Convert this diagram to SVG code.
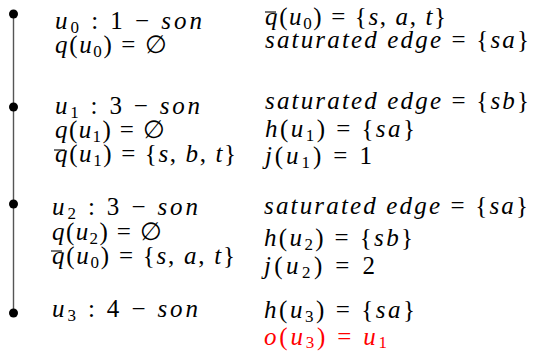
<svg xmlns="http://www.w3.org/2000/svg" width="533" height="353" viewBox="0 0 533 353">
<style>
text{font-family:"Liberation Serif","Times New Roman",serif;font-size:25px;fill:#000}
.i{font-style:italic}
.s{font-size:17px}
.red,.red tspan{fill:#ff0000}
.dot{fill:#000}
.bar{stroke:#000;stroke-width:1.1}
.conn{stroke:#555;stroke-width:1.4;fill:none}
</style>
<rect width="533" height="353" fill="#fff"/>
<g id="connectors">
<line class="conn" x1="13.5" y1="14" x2="13.5" y2="313"/>
</g>
<g id="u0">
<circle class="dot" cx="13.5" cy="14" r="4.5"/>
<text x="55" y="29" textLength="147" lengthAdjust="spacing"><tspan class="i">u</tspan><tspan class="s" dy="4">0</tspan><tspan dy="-4"> :  1 − </tspan><tspan class="i">son</tspan></text>
<text x="55" y="53" textLength="112" lengthAdjust="spacing"><tspan class="i">q</tspan>(<tspan class="i">u</tspan><tspan class="s" dy="4">0</tspan><tspan dy="-4">) = ∅</tspan></text>
<line class="bar" x1="265" y1="12" x2="276" y2="12"/>
<text x="265" y="25" textLength="181" lengthAdjust="spacing"><tspan class="i">q</tspan>(<tspan class="i">u</tspan><tspan class="s" dy="4">0</tspan><tspan dy="-4">) = {</tspan><tspan class="i">s</tspan>, <tspan class="i">a</tspan>, <tspan class="i">t</tspan>}</text>
<text x="265" y="48" textLength="264" lengthAdjust="spacing"><tspan class="i">saturated edge</tspan> = {<tspan class="i">sa</tspan>}</text>
</g>
<g id="u1">
<circle class="dot" cx="13.5" cy="107" r="4.5"/>
<text x="55" y="114" textLength="145" lengthAdjust="spacing"><tspan class="i">u</tspan><tspan class="s" dy="4">1</tspan><tspan dy="-4"> :  3 − </tspan><tspan class="i">son</tspan></text>
<text x="55" y="138" textLength="110" lengthAdjust="spacing"><tspan class="i">q</tspan>(<tspan class="i">u</tspan><tspan class="s" dy="4">1</tspan><tspan dy="-4">) = ∅</tspan></text>
<line class="bar" x1="54" y1="150" x2="65" y2="150"/>
<text x="55" y="162" textLength="181" lengthAdjust="spacing"><tspan class="i">q</tspan>(<tspan class="i">u</tspan><tspan class="s" dy="4">1</tspan><tspan dy="-4">) = {</tspan><tspan class="i">s</tspan>, <tspan class="i">b</tspan>, <tspan class="i">t</tspan>}</text>
<text x="265" y="109" textLength="264" lengthAdjust="spacing"><tspan class="i">saturated edge</tspan> = {<tspan class="i">sb</tspan>}</text>
<text x="265" y="137" textLength="150" lengthAdjust="spacing"><tspan class="i">h</tspan>(<tspan class="i">u</tspan><tspan class="s" dy="4">1</tspan><tspan dy="-4">) = {</tspan><tspan class="i">sa</tspan>}</text>
<text x="265" y="164" textLength="107" lengthAdjust="spacing"><tspan class="i">j</tspan>(<tspan class="i">u</tspan><tspan class="s" dy="4">1</tspan><tspan dy="-4">) = 1</tspan></text>
</g>
<g id="u2">
<circle class="dot" cx="13.5" cy="204" r="4.5"/>
<text x="52" y="215" textLength="146" lengthAdjust="spacing"><tspan class="i">u</tspan><tspan class="s" dy="4">2</tspan><tspan dy="-4"> :  3 − </tspan><tspan class="i">son</tspan></text>
<text x="52" y="240" textLength="110" lengthAdjust="spacing"><tspan class="i">q</tspan>(<tspan class="i">u</tspan><tspan class="s" dy="4">2</tspan><tspan dy="-4">) = ∅</tspan></text>
<line class="bar" x1="51" y1="251" x2="62" y2="251"/>
<text x="52" y="264" textLength="183" lengthAdjust="spacing"><tspan class="i">q</tspan>(<tspan class="i">u</tspan><tspan class="s" dy="4">0</tspan><tspan dy="-4">) = {</tspan><tspan class="i">s</tspan>, <tspan class="i">a</tspan>, <tspan class="i">t</tspan>}</text>
<text x="264" y="214" textLength="264" lengthAdjust="spacing"><tspan class="i">saturated edge</tspan> = {<tspan class="i">sa</tspan>}</text>
<text x="264" y="246" textLength="149" lengthAdjust="spacing"><tspan class="i">h</tspan>(<tspan class="i">u</tspan><tspan class="s" dy="4">2</tspan><tspan dy="-4">) = {</tspan><tspan class="i">sb</tspan>}</text>
<text x="264" y="274" textLength="111" lengthAdjust="spacing"><tspan class="i">j</tspan>(<tspan class="i">u</tspan><tspan class="s" dy="4">2</tspan><tspan dy="-4">) = 2</tspan></text>
</g>
<g id="u3">
<circle class="dot" cx="13.5" cy="313" r="4.5"/>
<text x="52" y="317" textLength="146" lengthAdjust="spacing"><tspan class="i">u</tspan><tspan class="s" dy="4">3</tspan><tspan dy="-4"> :  4 − </tspan><tspan class="i">son</tspan></text>
<text x="264" y="318" textLength="151" lengthAdjust="spacing"><tspan class="i">h</tspan>(<tspan class="i">u</tspan><tspan class="s" dy="4">3</tspan><tspan dy="-4">) = {</tspan><tspan class="i">sa</tspan>}</text>
<text class="red" x="264" y="345" textLength="123" lengthAdjust="spacing"><tspan class="i">o</tspan>(<tspan class="i">u</tspan><tspan class="s" dy="3">3</tspan><tspan dy="-3">) = </tspan><tspan class="i">u</tspan><tspan class="s" dy="3">1</tspan></text>
</g>
</svg>
